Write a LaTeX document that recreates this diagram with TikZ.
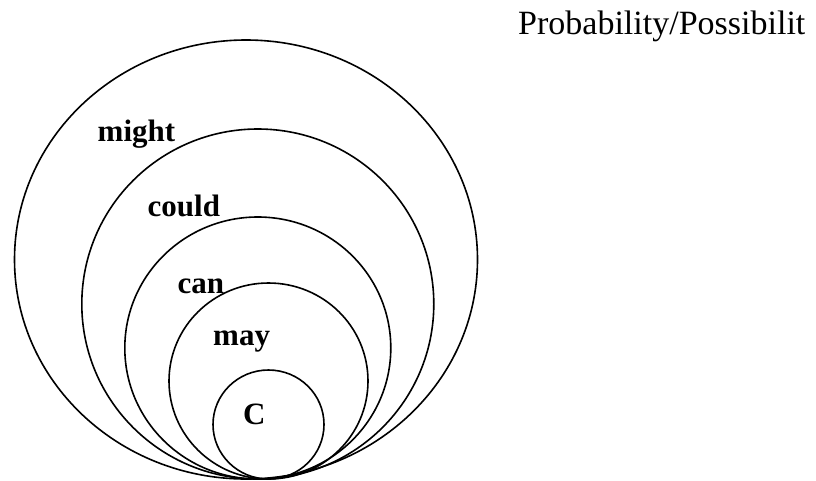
\documentclass[tikz,border=0pt]{standalone}
\usepackage{fontspec}
\setmainfont{Liberation Serif}
\usetikzlibrary{shapes.geometric}

\begin{document}
\begin{tikzpicture}[x=1pt, y=-1pt,
  ring/.style={draw, ellipse, line width=1.6pt, inner sep=0pt, outer sep=0pt},
  lbl/.style={anchor=base west, inner sep=0pt, font=\fontsize{31}{36}\selectfont\bfseries}]
  \useasboundingbox (0,0) rectangle (816,480);
  % nested rings, all touching near the bottom
  \node[ring, minimum width=463pt, minimum height=439pt] (might) at (246,259.5) {};
  \node[ring, minimum width=352pt, minimum height=350pt] (could) at (257.8,304) {};
  \node[ring, minimum width=266pt, minimum height=262pt] (can) at (257.8,348) {};
  \node[ring, minimum width=199pt, minimum height=196pt] (may) at (268.5,381) {};
  \node[ring, minimum width=111pt, minimum height=109pt] (c) at (268.5,424.5) {};
  % labels
  \node[lbl] (lmight) at (97.5,141.5) {might};
  \node[lbl] (lcould) at (147.5,216.5) {could};
  \node[lbl] (lcan) at (177.5,293) {can};
  \node[lbl] (lmay) at (213,345) {may};
  \node[lbl] (lc) at (243,424) {C};
  \node[anchor=base west, inner sep=0pt, font=\fontsize{34}{40}\selectfont] (title) at (518,34.5) {Probability/Possibilit};
\end{tikzpicture}
\end{document}
